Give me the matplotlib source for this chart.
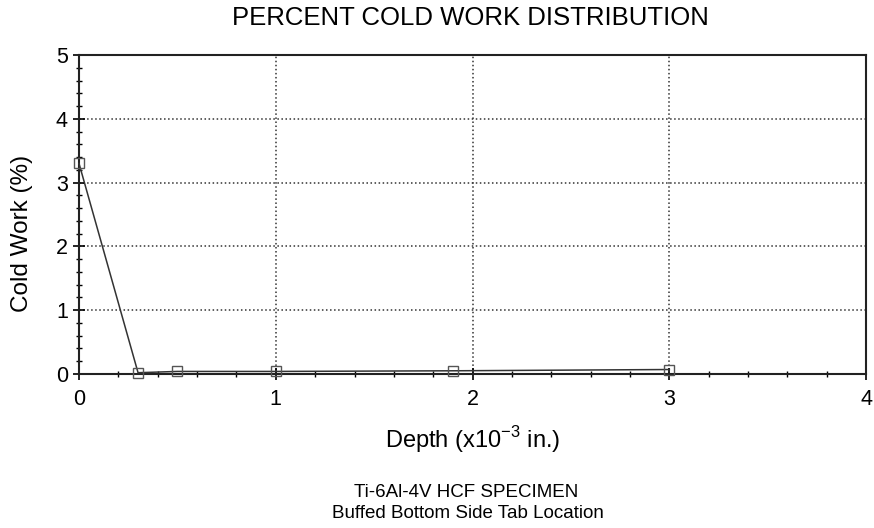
import matplotlib
matplotlib.use("Agg")
import matplotlib.pyplot as plt
from matplotlib.ticker import MultipleLocator

plt.rcParams['font.family'] = ['Liberation Sans', 'DejaVu Sans']
plt.rcParams['mathtext.fontset'] = 'custom'
plt.rcParams['mathtext.rm'] = 'Liberation Sans'

# depth (x10^-3 in.) and cold work (%)
depth = [0.0, 0.3, 0.5, 1.0, 1.9, 3.0]
cold_work = [3.3, 0.02, 0.04, 0.04, 0.05, 0.07]

fig = plt.figure(figsize=(8.74, 5.28), dpi=100)
ax = fig.add_axes([0.0904, 0.2917, 0.9006, 0.6041])

ax.plot(depth, cold_work, color='#333333', lw=1.1, marker='s', ms=7,
        mfc='none', mec='#555555', mew=1.0, clip_on=False, zorder=3)

ax.set_xlim(0, 4)
ax.set_ylim(0, 5)
ax.xaxis.set_major_locator(MultipleLocator(1))
ax.xaxis.set_minor_locator(MultipleLocator(0.2))
ax.yaxis.set_major_locator(MultipleLocator(1))
ax.yaxis.set_minor_locator(MultipleLocator(0.2))
ax.tick_params(which='major', direction='inout', length=8, width=1.2, labelsize=15.5)
ax.tick_params(axis='x', which='major', pad=7)
ax.tick_params(axis='y', which='major', pad=4)
ax.tick_params(which='minor', direction='inout', length=4, width=1)
ax.grid(True, which='major', linestyle=':', color='#333333', lw=1.1)

for s in ax.spines.values():
    s.set_linewidth(1.5)
    s.set_color('#222222')

ax.set_xlabel('Depth (x10$^{\\mathrm{-3}}$ in.)', fontsize=17, labelpad=10)
ax.set_ylabel('Cold Work (%)', fontsize=17.5)
ax.yaxis.set_label_coords(-0.058, 0.44)

fig.text(0.538, 0.965, 'PERCENT COLD WORK DISTRIBUTION', ha='center', va='center', fontsize=18.5)
fig.text(0.533, 0.068, 'Ti-6Al-4V HCF SPECIMEN', ha='center', va='center', fontsize=13.5)
fig.text(0.535, 0.028, 'Buffed Bottom Side Tab Location', ha='center', va='center', fontsize=13.5)

fig.savefig('out.png', dpi=100)
